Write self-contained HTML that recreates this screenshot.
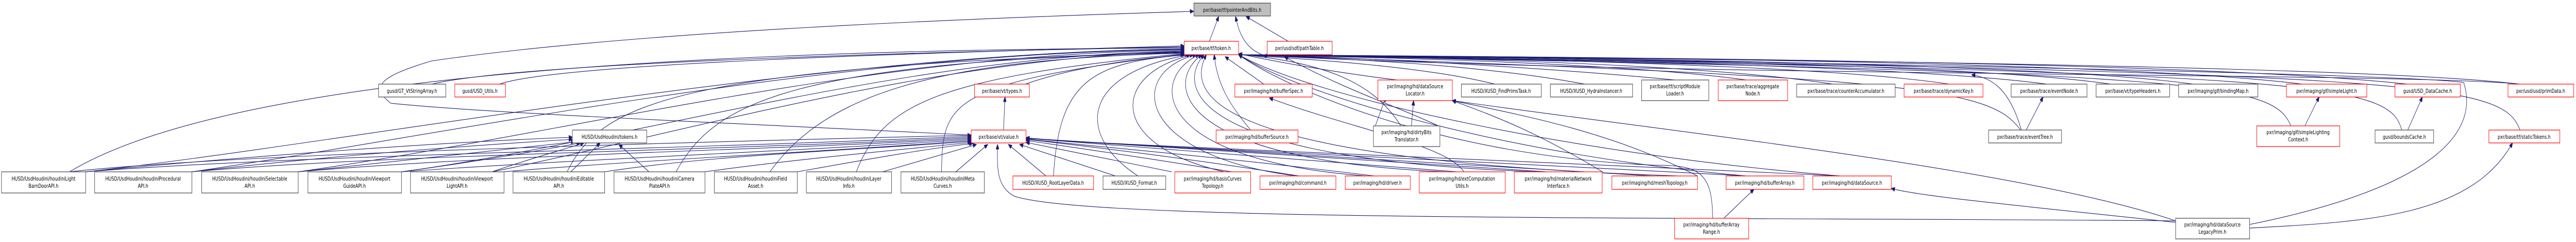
<!DOCTYPE html>
<html><head><meta charset="utf-8"><style>
html,body{margin:0;padding:0;background:#fff;width:100%;height:469px;overflow:hidden;}
svg{display:block;width:100%;height:469px;}
text{font-family:"DejaVu Sans","Liberation Sans",sans-serif;font-size:11px;fill:#000;text-anchor:middle;}
.e{fill:none;stroke:#191970;stroke-width:1.1;marker-end:url(#a);}
.b{fill:#fff;stroke:#404040;stroke-width:1.2;}
.r{fill:#fff;stroke:#ff0000;stroke-width:1.2;}
.g{fill:#bfbfbf;stroke:#404040;stroke-width:1.2;}
</style></head><body>
<svg viewBox="0 0 6859 469" preserveAspectRatio="none" xmlns="http://www.w3.org/2000/svg">
<defs><marker id="a" markerWidth="10" markerHeight="8" refX="9.5" refY="4" orient="auto" markerUnits="userSpaceOnUse"><path d="M0,0 L10,4 L0,8 z" fill="#191970" stroke="#191970"/></marker></defs>
<g>
<path class="e" d="M3220,80 L3245,32"/>
<path class="e" d="M3430,80 L3318,32"/>
<path class="e" d="M3364,107 C3320,95 3300,70 3290,32"/>
<path class="e" d="M2590,262 C2000,240 1300,220 1040,200 C990,170 1000,150 1150,118 C1700,60 2600,35 3178,22"/>
<path class="e" d="M185,333 C600,150 1800,96 3153,93"/>
<path class="e" d="M228,333 C900,280 2200,100 3153,95"/>
<path class="e" d="M511,333 C1200,260 2200,102 3153,96"/>
<path class="e" d="M794,333 C1500,260 2300,105 3153,97"/>
<path class="e" d="M1069,333 C1700,270 2400,108 3153,99"/>
<path class="e" d="M1310,333 C1800,260 2500,110 3153,100"/>
<path class="e" d="M1510,333 C1600,200 1800,130 3153,101"/>
<path class="e" d="M1800,333 C1900,200 2100,120 3153,102"/>
<path class="e" d="M2050,333 C2200,180 2500,115 3153,103"/>
<path class="e" d="M2280,333 C2350,200 2500,150 3153,104"/>
<path class="e" d="M2507,333 C2510,200 2520,160 3153,105"/>
<path class="e" d="M1150,163 C1400,120 2500,100 3153,91"/>
<path class="e" d="M1330,163 C1500,120 2600,100 3153,89"/>
<path class="e" d="M2730,163 C2900,120 3100,110 3155,106"/>
<path class="e" d="M2805,341 C2820,160 2900,120 3165,106"/>
<path class="e" d="M3030,341 C2860,260 2880,140 3170,106"/>
<path class="e" d="M3260,333 C2940,280 2960,140 3178,106"/>
<path class="e" d="M3450,341 C3020,300 3000,140 3185,106"/>
<path class="e" d="M3640,341 C3060,310 3060,150 3193,106"/>
<path class="e" d="M3850,333 C3120,310 3100,160 3200,106"/>
<path class="e" d="M4100,333 C3170,310 3130,170 3206,106"/>
<path class="e" d="M4470,341 C3200,310 3160,180 3212,106"/>
<path class="e" d="M3330,252 C3270,200 3240,160 3233,106"/>
<path class="e" d="M3365,163 L3262,110"/>
<path class="e" d="M3720,155 C3550,140 3400,120 3298,104"/>
<path class="e" d="M3730,244 C3650,150 3500,120 3298,105"/>
<path class="e" d="M3980,163 C3800,130 3500,115 3298,106"/>
<path class="e" d="M4220,163 C3900,120 3500,112 3298,106"/>
<path class="e" d="M4460,155 C4100,130 3600,110 3298,106"/>
<path class="e" d="M4650,155 C4300,120 3600,110 3298,106"/>
<path class="e" d="M4880,163 C4500,120 3700,110 3298,106"/>
<path class="e" d="M5190,163 C4800,120 3700,110 3298,106"/>
<path class="e" d="M5450,163 C5000,120 3700,110 3298,106"/>
<path class="e" d="M5620,163 C5200,118 3800,110 3298,106"/>
<path class="e" d="M5840,163 C5400,118 3900,110 3298,106"/>
<path class="e" d="M6130,163 C5600,115 4000,110 3298,106"/>
<path class="e" d="M6410,163 C5800,115 4000,110 3298,106"/>
<path class="e" d="M6710,163 C6200,120 4000,112 3298,106"/>
<path class="e" d="M6710,163 C6400,140 4500,150 3364,108"/>
<path class="e" d="M5380,252 C5300,170 5100,150 3298,106"/>
<path class="e" d="M6100,244 C6050,160 5900,140 3298,106"/>
<path class="e" d="M6395,252 C6360,160 6200,140 3298,106"/>
<path class="e" d="M6710,252 C6660,160 6500,140 3298,106"/>
<path class="e" d="M5990,435 C6500,360 6600,250 6560,160 C6400,140 4000,110 3298,106"/>
<path class="e" d="M4560,423 C4560,330 4520,320 4400,320 C3800,300 3400,160 3298,106"/>
<path class="e" d="M4650,341 C4000,300 3450,180 3298,106"/>
<path class="e" d="M4900,341 C4200,300 3500,190 3298,106"/>
<path class="e" d="M2672,252 L2676,188"/>
<path class="e" d="M185,333 C600,300 1600,280 2586,262"/>
<path class="e" d="M228,333 C800,300 1800,290 2586,264"/>
<path class="e" d="M511,333 C1000,300 2000,290 2586,266"/>
<path class="e" d="M794,333 C1300,300 2100,290 2586,268"/>
<path class="e" d="M1069,333 C1500,310 2200,290 2586,270"/>
<path class="e" d="M1342,333 C1700,310 2300,290 2586,272"/>
<path class="e" d="M1610,333 C1900,300 2300,290 2586,274"/>
<path class="e" d="M1877,333 C2100,310 2400,290 2586,276"/>
<path class="e" d="M2123,333 C2300,310 2450,290 2590,278"/>
<path class="e" d="M2350,333 L2600,280"/>
<path class="e" d="M2545,333 L2630,280"/>
<path class="e" d="M2785,341 L2685,280"/>
<path class="e" d="M2970,341 L2715,280"/>
<path class="e" d="M3120,333 L2732,276"/>
<path class="e" d="M3280,333 C3000,300 2850,285 2732,272"/>
<path class="e" d="M3460,341 C3100,300 2850,280 2732,270"/>
<path class="e" d="M3660,341 C3200,300 2850,280 2732,269"/>
<path class="e" d="M3880,333 C3300,300 2900,280 2732,268"/>
<path class="e" d="M4120,333 C3400,300 2900,280 2732,268"/>
<path class="e" d="M4400,341 C3500,300 2900,280 2732,268"/>
<path class="e" d="M4650,341 C3600,300 2900,280 2732,267"/>
<path class="e" d="M4900,341 C3700,300 2900,280 2732,267"/>
<path class="e" d="M5793,428 C4500,420 2900,430 2700,380 C2650,360 2656,320 2656,280"/>
<path class="e" d="M228,333 C700,300 1200,275 1524,266"/>
<path class="e" d="M511,333 C900,300 1300,280 1524,270"/>
<path class="e" d="M794,333 C1100,310 1400,285 1530,275"/>
<path class="e" d="M1069,333 C1300,310 1450,290 1545,277"/>
<path class="e" d="M1310,333 C1400,310 1500,290 1555,277"/>
<path class="e" d="M1520,333 L1598,277"/>
<path class="e" d="M1728,333 L1648,280"/>
<path class="e" d="M3658,252 L3690,188"/>
<path class="e" d="M3758,244 L3764,195"/>
<path class="e" d="M3830,244 C3700,200 3600,180 3420,110"/>
<path class="e" d="M3898,333 C3850,280 3600,250 3380,190"/>
<path class="e" d="M4267,333 C4100,260 4000,230 3867,195"/>
<path class="e" d="M4520,341 C4300,260 4100,230 3867,195"/>
<path class="e" d="M5793,428 C5400,330 4500,260 3867,195"/>
<path class="e" d="M5395,252 L5440,188"/>
<path class="e" d="M5382,252 C5350,170 5300,150 5250,145"/>
<path class="e" d="M6137,244 L6175,188"/>
<path class="e" d="M6411,252 L6450,188"/>
<path class="e" d="M4590,423 L4670,367"/>
<path class="e" d="M5793,431 C5400,400 5100,380 5036,365"/>
<path class="e" d="M5990,442 C6300,430 6580,420 6690,277"/>
</g>
<rect class="g" x="3179" y="6" width="204" height="25"/><text x="3281" y="23">pxr/base/tf/pointerAndBits.h</text>
<rect class="r" x="3153" y="80" width="145" height="26"/><text x="3225" y="97">pxr/base/tf/token.h</text>
<rect class="r" x="3374" y="80" width="173" height="26"/><text x="3460" y="97">pxr/usd/sdf/pathTable.h</text>
<rect class="b" x="1008" y="163" width="179" height="25"/><text x="1097" y="180">gusd/GT_VtStringArray.h</text>
<rect class="r" x="1211" y="163" width="135" height="25"/><text x="1278" y="180">gusd/USD_Utils.h</text>
<rect class="r" x="2595" y="163" width="146" height="25"/><text x="2668" y="180">pxr/base/vt/types.h</text>
<rect class="r" x="3288" y="163" width="206" height="25"/><text x="3391" y="180">pxr/imaging/hd/bufferSpec.h</text>
<rect class="r" x="3669" y="155" width="198" height="40"/><text x="3768" y="171">pxr/imaging/hd/dataSource</text><text x="3768" y="185">Locator.h</text>
<rect class="b" x="3891" y="163" width="213" height="25"/><text x="3997" y="180">HUSD/XUSD_FindPrimsTask.h</text>
<rect class="b" x="4128" y="163" width="219" height="25"/><text x="4237" y="180">HUSD/XUSD_HydraInstancer.h</text>
<rect class="b" x="4371" y="155" width="179" height="40"/><text x="4460" y="171">pxr/base/tf/scriptModule</text><text x="4460" y="185">Loader.h</text>
<rect class="r" x="4575" y="155" width="185" height="40"/><text x="4667" y="171">pxr/base/trace/aggregate</text><text x="4667" y="185">Node.h</text>
<rect class="b" x="4784" y="163" width="262" height="25"/><text x="4915" y="180">pxr/base/trace/counterAccumulator.h</text>
<rect class="r" x="5070" y="163" width="210" height="25"/><text x="5175" y="180">pxr/base/trace/dynamicKey.h</text>
<rect class="b" x="5355" y="163" width="202" height="25"/><text x="5456" y="180">pxr/base/trace/eventNode.h</text>
<rect class="b" x="5581" y="163" width="196" height="25"/><text x="5679" y="180">pxr/base/vt/typeHeaders.h</text>
<rect class="b" x="5801" y="163" width="211" height="25"/><text x="5906" y="180">pxr/imaging/glf/bindingMap.h</text>
<rect class="r" x="6088" y="163" width="214" height="25"/><text x="6195" y="180">pxr/imaging/glf/simpleLight.h</text>
<rect class="r" x="6377" y="163" width="174" height="25"/><text x="6464" y="180">gusd/USD_DataCache.h</text>
<rect class="r" x="6678" y="163" width="175" height="25"/><text x="6765" y="180">pxr/usd/usd/primData.h</text>
<rect class="b" x="1524" y="252" width="198" height="25"/><text x="1623" y="269">HUSD/UsdHoudini/tokens.h</text>
<rect class="r" x="2586" y="252" width="146" height="25"/><text x="2659" y="269">pxr/base/vt/value.h</text>
<rect class="r" x="3238" y="252" width="218" height="25"/><text x="3347" y="269">pxr/imaging/hd/bufferSource.h</text>
<rect class="b" x="3657" y="244" width="177" height="40"/><text x="3745" y="260">pxr/imaging/hd/dirtyBits</text><text x="3745" y="274">Translator.h</text>
<rect class="b" x="5295" y="252" width="194" height="25"/><text x="5392" y="269">pxr/base/trace/eventTree.h</text>
<rect class="r" x="6009" y="244" width="221" height="40"/><text x="6119" y="260">pxr/imaging/glf/simpleLighting</text><text x="6119" y="274">Context.h</text>
<rect class="b" x="6324" y="252" width="156" height="25"/><text x="6402" y="269">gusd/boundsCache.h</text>
<rect class="r" x="6627" y="252" width="189" height="25"/><text x="6721" y="269">pxr/base/tf/staticTokens.h</text>
<rect class="b" x="4" y="333" width="224" height="41"/><text x="116" y="350">HUSD/UsdHoudini/houdiniLight</text><text x="116" y="364">BarnDoorAPI.h</text>
<rect class="b" x="252" y="333" width="259" height="41"/><text x="381" y="350">HUSD/UsdHoudini/houdiniProcedural</text><text x="381" y="364">API.h</text>
<rect class="b" x="537" y="333" width="257" height="41"/><text x="665" y="350">HUSD/UsdHoudini/houdiniSelectable</text><text x="665" y="364">API.h</text>
<rect class="b" x="820" y="333" width="249" height="41"/><text x="944" y="350">HUSD/UsdHoudini/houdiniViewport</text><text x="944" y="364">GuideAPI.h</text>
<rect class="b" x="1093" y="333" width="249" height="41"/><text x="1217" y="350">HUSD/UsdHoudini/houdiniViewport</text><text x="1217" y="364">LightAPI.h</text>
<rect class="b" x="1366" y="333" width="244" height="41"/><text x="1488" y="350">HUSD/UsdHoudini/houdiniEditable</text><text x="1488" y="364">API.h</text>
<rect class="b" x="1635" y="333" width="242" height="41"/><text x="1756" y="350">HUSD/UsdHoudini/houdiniCamera</text><text x="1756" y="364">PlateAPI.h</text>
<rect class="b" x="1902" y="333" width="221" height="41"/><text x="2012" y="350">HUSD/UsdHoudini/houdiniField</text><text x="2012" y="364">Asset.h</text>
<rect class="b" x="2147" y="333" width="227" height="41"/><text x="2260" y="350">HUSD/UsdHoudini/houdiniLayer</text><text x="2260" y="364">Info.h</text>
<rect class="b" x="2399" y="333" width="222" height="41"/><text x="2510" y="350">HUSD/UsdHoudini/houdiniMeta</text><text x="2510" y="364">Curves.h</text>
<rect class="r" x="2697" y="341" width="215" height="26"/><text x="2804" y="358">HUSD/XUSD_RootLayerData.h</text>
<rect class="b" x="2937" y="341" width="167" height="26"/><text x="3020" y="358">HUSD/XUSD_Format.h</text>
<rect class="r" x="3128" y="333" width="202" height="41"/><text x="3229" y="350">pxr/imaging/hd/basisCurves</text><text x="3229" y="364">Topology.h</text>
<rect class="r" x="3355" y="341" width="202" height="26"/><text x="3456" y="358">pxr/imaging/hd/command.h</text>
<rect class="r" x="3582" y="341" width="173" height="26"/><text x="3668" y="358">pxr/imaging/hd/driver.h</text>
<rect class="r" x="3779" y="333" width="229" height="41"/><text x="3893" y="350">pxr/imaging/hd/extComputation</text><text x="3893" y="364">Utils.h</text>
<rect class="r" x="4032" y="333" width="234" height="41"/><text x="4149" y="350">pxr/imaging/hd/materialNetwork</text><text x="4149" y="364">Interface.h</text>
<rect class="r" x="4292" y="341" width="228" height="26"/><text x="4406" y="358">pxr/imaging/hd/meshTopology.h</text>
<rect class="r" x="4596" y="341" width="207" height="26"/><text x="4699" y="358">pxr/imaging/hd/bufferArray.h</text>
<rect class="r" x="4827" y="341" width="209" height="26"/><text x="4931" y="358">pxr/imaging/hd/dataSource.h</text>
<rect class="r" x="4459" y="423" width="197" height="40"/><text x="4557" y="439">pxr/imaging/hd/bufferArray</text><text x="4557" y="453">Range.h</text>
<rect class="b" x="5793" y="423" width="197" height="40"/><text x="5891" y="439">pxr/imaging/hd/dataSource</text><text x="5891" y="453">LegacyPrim.h</text>
</svg>
</body></html>
